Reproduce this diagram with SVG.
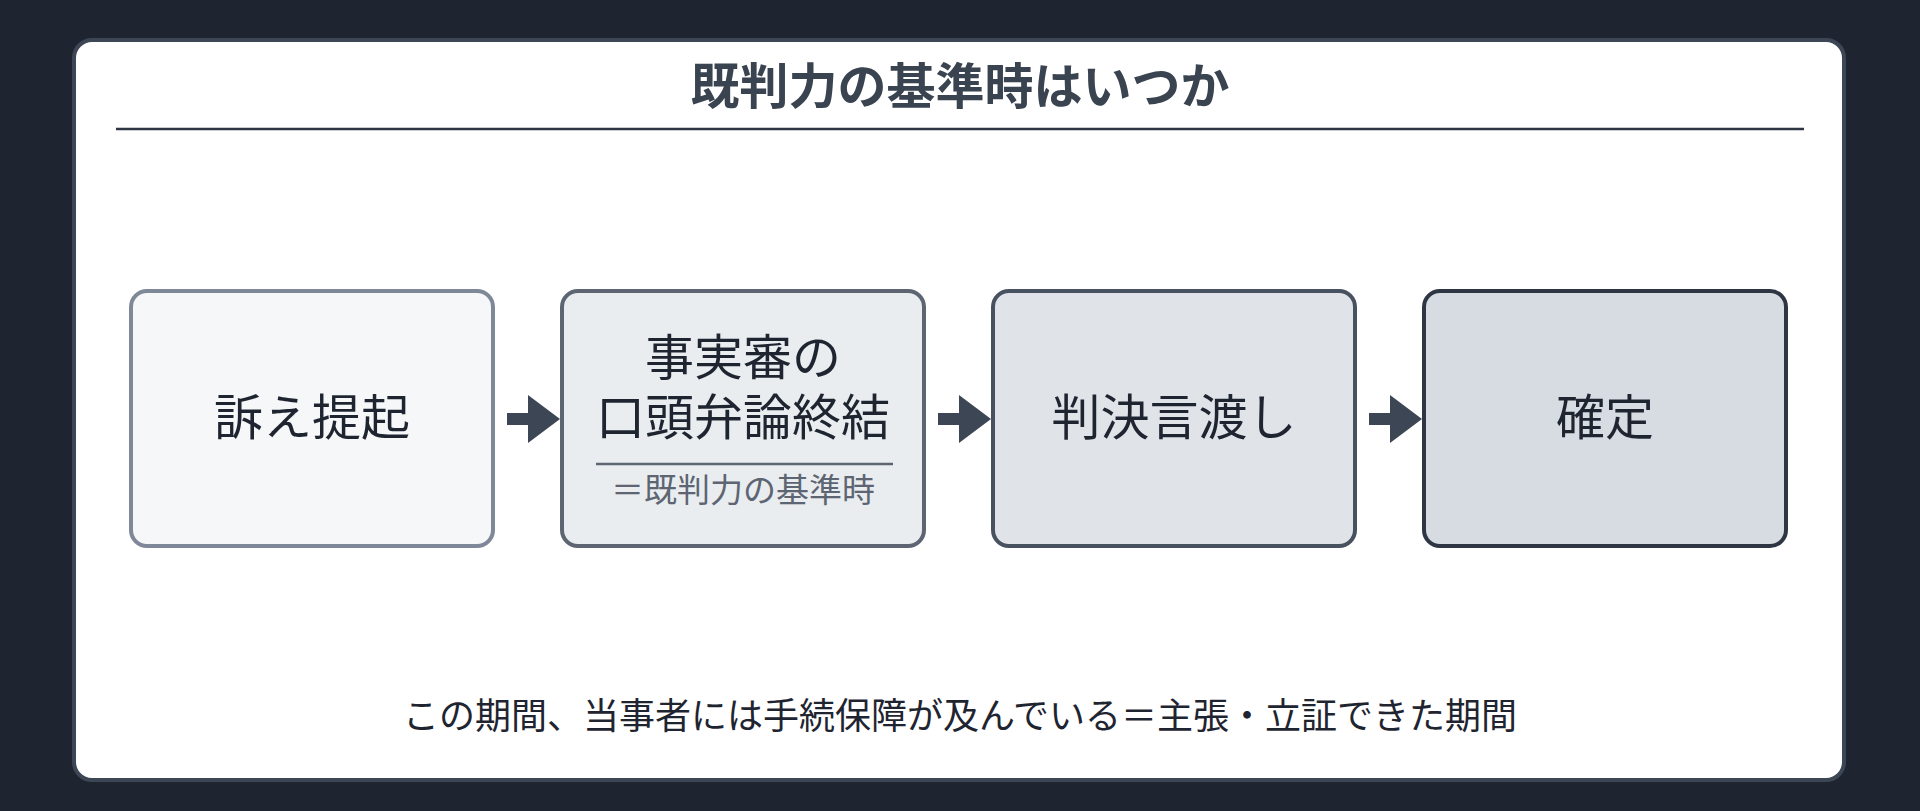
<svg xmlns="http://www.w3.org/2000/svg" width="1920" height="811" viewBox="0 0 1920 811">
<style>
text{font-family:"Noto Sans CJK JP","Noto Sans",sans-serif;text-anchor:middle}
.n{font-size:49px;fill:#1f2530}
.arr{fill:#3d4654}
</style>
<rect width="1920" height="811" fill="#1f2530"/>
<rect x="74" y="40" width="1770" height="740" rx="18" fill="#ffffff" stroke="#3d4654" stroke-width="4"/>
<g id="title">
<text x="960" y="104" font-size="49" font-weight="bold" fill="#3a4350">既判力の基準時はいつか</text>
<line x1="116" y1="129" x2="1804" y2="129" stroke="#2e3644" stroke-width="2.5"/>
</g>
<g id="node1"><rect x="131" y="291" width="362" height="255" rx="16" fill="#f5f7f9" stroke="#7f8898" stroke-width="4"/>
<text class="n" x="312" y="435">訴え提起</text></g>
<g id="node2"><rect x="562" y="291" width="362" height="255" rx="16" fill="#e9edf0" stroke="#5d6573" stroke-width="4"/>
<text class="n" x="743" y="375">事実審の</text>
<text class="n" x="743" y="435">口頭弁論終結</text>
<line x1="596" y1="464" x2="893" y2="464" stroke="#5d6573" stroke-width="2.5"/>
<text x="743" y="502" font-size="33" fill="#5d6573">＝既判力の基準時</text></g>
<g id="node3"><rect x="993" y="291" width="362" height="255" rx="16" fill="#e0e4e9" stroke="#485160" stroke-width="4"/>
<text class="n" x="1174" y="435">判決言渡し</text></g>
<g id="node4"><rect x="1424" y="291" width="362" height="255" rx="16" fill="#d7dbe2" stroke="#2e3644" stroke-width="4"/>
<text class="n" x="1605" y="435">確定</text></g>
<g id="connectors">
<path class="arr" d="M507 413h21v-18l32 24-32 24v-18h-21z"/>
<path class="arr" d="M938 413h21v-18l32 24-32 24v-18h-21z"/>
<path class="arr" d="M1369 413h21v-18l32 24-32 24v-18h-21z"/>
</g>
<g id="note"><text x="960" y="729" font-size="36" fill="#1f2530">この期間、当事者には手続保障が及んでいる＝主張・立証できた期間</text></g>
</svg>
